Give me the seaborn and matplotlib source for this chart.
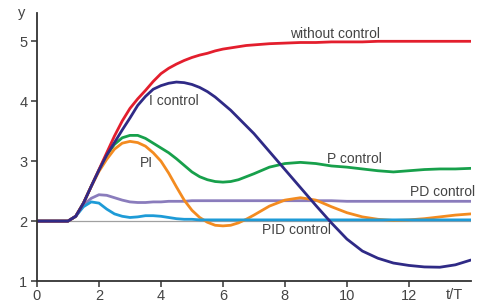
import numpy as np
import pandas as pd
import matplotlib
matplotlib.use("Agg")
import matplotlib.pyplot as plt
import seaborn as sns

# Zeitachse t/T und Sprungantworten
t = [0, 1, 1.25, 1.5, 1.75, 2, 2.25, 2.5, 2.75, 3, 3.25, 3.5, 3.75, 4,
     4.25, 4.5, 4.75, 5, 5.25, 5.5, 5.75, 6, 6.25, 6.5, 6.75,
     7, 7.5, 8, 8.5, 9, 9.5, 10, 10.5,
     11, 11.5, 12, 12.5, 13, 13.5, 14]

without_ctrl = [2, 2, 2.08, 2.3, 2.58, 2.86, 3.14, 3.42, 3.67, 3.88, 4.04, 4.18, 4.33, 4.46,
                4.55, 4.62, 4.68, 4.73, 4.77, 4.8, 4.84, 4.87, 4.89, 4.91, 4.93,
                4.94, 4.96, 4.97, 4.98, 4.98, 4.99, 4.99, 4.99,
                5.0, 5.0, 5.0, 5.0, 5.0, 5.0, 5.0]
i_ctrl = [2, 2, 2.08, 2.3, 2.58, 2.85, 3.1, 3.31, 3.52, 3.72, 3.93, 4.08, 4.2, 4.26,
          4.3, 4.32, 4.31, 4.28, 4.23, 4.16, 4.07, 3.96, 3.85, 3.72, 3.59,
          3.46, 3.16, 2.86, 2.56, 2.26, 1.97, 1.7, 1.5,
          1.38, 1.3, 1.26, 1.235, 1.23, 1.27, 1.35]
p_ctrl = [2, 2, 2.08, 2.3, 2.58, 2.85, 3.1, 3.28, 3.39, 3.43, 3.43, 3.38, 3.3, 3.22,
          3.14, 3.04, 2.93, 2.82, 2.74, 2.69, 2.66, 2.65, 2.66, 2.69, 2.74,
          2.79, 2.9, 2.96, 2.98, 2.96, 2.92, 2.9, 2.87,
          2.84, 2.82, 2.84, 2.86, 2.87, 2.87, 2.88]
pi_ctrl = [2, 2, 2.08, 2.3, 2.58, 2.83, 3.03, 3.2, 3.3, 3.33, 3.31, 3.25, 3.14, 3.0,
           2.8, 2.57, 2.35, 2.18, 2.06, 1.98, 1.93, 1.92, 1.93, 1.97, 2.03,
           2.1, 2.25, 2.35, 2.39, 2.35, 2.24, 2.14, 2.07,
           2.03, 2.01, 2.02, 2.04, 2.07, 2.1, 2.12]
pd_ctrl = [2, 2, 2.08, 2.27, 2.38, 2.44, 2.43, 2.39, 2.35, 2.32, 2.31, 2.31, 2.32, 2.32,
           2.33, 2.33, 2.33, 2.34, 2.34, 2.34, 2.34, 2.34, 2.34, 2.34, 2.34,
           2.34, 2.34, 2.34, 2.34, 2.34, 2.34, 2.33, 2.33,
           2.33, 2.33, 2.33, 2.33, 2.33, 2.33, 2.33]
pid_ctrl = [2, 2, 2.08, 2.24, 2.32, 2.3, 2.2, 2.12, 2.08, 2.06, 2.07, 2.09, 2.09, 2.08,
            2.06, 2.04, 2.03, 2.03, 2.02, 2.02, 2.02, 2.02, 2.02, 2.02, 2.02,
            2.02, 2.02, 2.02, 2.02, 2.02, 2.02, 2.02, 2.02,
            2.02, 2.02, 2.02, 2.02, 2.02, 2.02, 2.02]

series = {
    "P control": p_ctrl,
    "PD control": pd_ctrl,
    "PI": pi_ctrl,
    "PID control": pid_ctrl,
    "without control": without_ctrl,
    "I control": i_ctrl,
}
colors = {
    "P control": "#17a04b",
    "PD control": "#8a7cbc",
    "PI": "#f38b20",
    "PID control": "#1e9bd7",
    "without control": "#e31e2d",
    "I control": "#2f2a86",
}

data = pd.concat(
    [pd.DataFrame({"t": t, "y": v, "serie": k}) for k, v in series.items()],
    ignore_index=True,
)

sns.set_style("ticks")
plt.rcParams["font.family"] = ["Liberation Sans", "DejaVu Sans"]

fig = plt.figure(figsize=(4.81, 3.02), dpi=100)
ax = fig.add_axes([0.0769, 0.0695, 0.902, 0.887])

ax.axhline(2, color="#a0a0a0", lw=0.9, zorder=1)
sns.lineplot(data=data, x="t", y="y", hue="serie", palette=colors,
             hue_order=list(series.keys()), lw=2, legend=False, ax=ax)

ax.set_xlim(0, 14)
ax.set_ylim(1, 5.47)
ax.set_xticks([0, 2, 4, 6, 8, 10, 12])
ax.set_yticks([1, 2, 3, 4, 5])
ax.set_xlabel("")
ax.set_ylabel("")
sns.despine(ax=ax)
for s in ["left", "bottom"]:
    ax.spines[s].set_color("#333333")
    ax.spines[s].set_linewidth(1.3)
ax.tick_params(axis="both", length=4, width=1.1, color="#333333",
               labelsize=10.5, labelcolor="#444444")
ax.tick_params(axis="x", pad=1.5)
ax.tick_params(axis="y", pad=3)

txt = dict(color="#444444", fontsize=10, va="center", ha="left")
ax.text(8.16, 5.12, "without control", **txt)
ax.text(3.6, 4.0, "I control", **txt)
ax.text(3.32, 2.97, "PI", **txt)
ax.text(9.35, 3.03, "P control", **txt)
ax.text(12.03, 2.48, "PD control", **txt)
ax.text(7.26, 1.85, "PID control", **txt)
ax.text(-0.48, 5.48, "y", color="#444444", fontsize=10.5, ha="center",
        va="center", clip_on=False)
ax.text(13.48, 0.77, "t/T", color="#444444", fontsize=10.5, ha="center",
        va="center", clip_on=False)

fig.savefig("out.png", dpi=100)
